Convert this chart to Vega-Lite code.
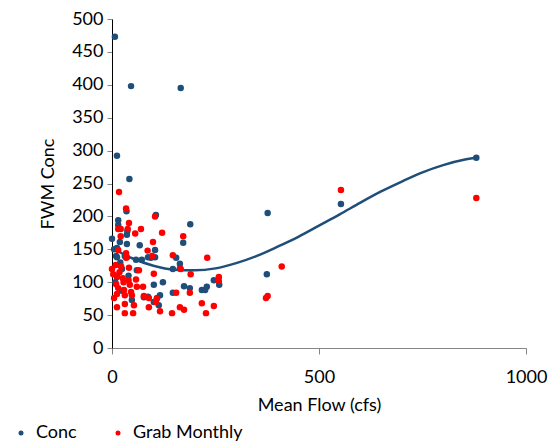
{
  "$schema": "https://vega.github.io/schema/vega-lite/v6.json",
  "width": 414,
  "height": 329,
  "autosize": {"type": "none"},
  "padding": {"left": 112, "top": 19, "right": 27, "bottom": 96},
  "background": "white",
  "config": {
    "font": "Lato",
    "view": {"stroke": null},
    "axis": {"grid": false, "labelFont": "Lato", "titleFont": "Lato", "labelFontSize": 18, "titleFontSize": 18, "labelColor": "#000000", "titleColor": "#000000", "titleFontWeight": "normal"},
    "legend": {"labelFont": "Lato", "labelFontSize": 18, "labelColor": "#000000"}
  },
  "datasets": {
    "pts": [
      {"flow": 7, "conc": 473, "series": "Conc"},
      {"flow": 46, "conc": 398, "series": "Conc"},
      {"flow": 166, "conc": 395, "series": "Conc"},
      {"flow": 12, "conc": 292, "series": "Conc"},
      {"flow": 42, "conc": 257, "series": "Conc"},
      {"flow": 106, "conc": 202, "series": "Conc"},
      {"flow": 376, "conc": 205, "series": "Conc"},
      {"flow": 15, "conc": 194, "series": "Conc"},
      {"flow": 35, "conc": 208, "series": "Conc"},
      {"flow": 189, "conc": 188, "series": "Conc"},
      {"flow": 15, "conc": 187, "series": "Conc"},
      {"flow": 37, "conc": 178, "series": "Conc"},
      {"flow": 36, "conc": 172, "series": "Conc"},
      {"flow": 0, "conc": 166, "series": "Conc"},
      {"flow": 172, "conc": 160, "series": "Conc"},
      {"flow": 19, "conc": 161, "series": "Conc"},
      {"flow": 36, "conc": 158, "series": "Conc"},
      {"flow": 67, "conc": 156, "series": "Conc"},
      {"flow": 12, "conc": 152, "series": "Conc"},
      {"flow": 104, "conc": 149, "series": "Conc"},
      {"flow": 10, "conc": 140, "series": "Conc"},
      {"flow": 31, "conc": 140, "series": "Conc"},
      {"flow": 87, "conc": 138, "series": "Conc"},
      {"flow": 104, "conc": 138, "series": "Conc"},
      {"flow": 12, "conc": 138, "series": "Conc"},
      {"flow": 94, "conc": 137, "series": "Conc"},
      {"flow": 155, "conc": 137, "series": "Conc"},
      {"flow": 58, "conc": 134, "series": "Conc"},
      {"flow": 72, "conc": 134, "series": "Conc"},
      {"flow": 164, "conc": 128, "series": "Conc"},
      {"flow": 24, "conc": 120, "series": "Conc"},
      {"flow": 60, "conc": 118, "series": "Conc"},
      {"flow": 147, "conc": 120, "series": "Conc"},
      {"flow": 164, "conc": 121, "series": "Conc"},
      {"flow": 12, "conc": 108, "series": "Conc"},
      {"flow": 374, "conc": 112, "series": "Conc"},
      {"flow": 101, "conc": 96, "series": "Conc"},
      {"flow": 123, "conc": 100, "series": "Conc"},
      {"flow": 174, "conc": 94, "series": "Conc"},
      {"flow": 188, "conc": 91, "series": "Conc"},
      {"flow": 217, "conc": 88, "series": "Conc"},
      {"flow": 225, "conc": 88, "series": "Conc"},
      {"flow": 229, "conc": 93, "series": "Conc"},
      {"flow": 246, "conc": 103, "series": "Conc"},
      {"flow": 259, "conc": 96, "series": "Conc"},
      {"flow": 24, "conc": 87, "series": "Conc"},
      {"flow": 77, "conc": 77, "series": "Conc"},
      {"flow": 87, "conc": 78, "series": "Conc"},
      {"flow": 116, "conc": 80, "series": "Conc"},
      {"flow": 109, "conc": 76, "series": "Conc"},
      {"flow": 48, "conc": 73, "series": "Conc"},
      {"flow": 101, "conc": 70, "series": "Conc"},
      {"flow": 113, "conc": 65, "series": "Conc"},
      {"flow": 147, "conc": 84, "series": "Conc"},
      {"flow": 553, "conc": 219, "series": "Conc"},
      {"flow": 880, "conc": 289, "series": "Conc"},
      {"flow": 5, "conc": 150, "series": "Conc"},
      {"flow": 20, "conc": 130, "series": "Conc"},
      {"flow": 40, "conc": 110, "series": "Conc"},
      {"flow": 8, "conc": 100, "series": "Conc"},
      {"flow": 17, "conc": 237, "series": "Grab Monthly"},
      {"flow": 34, "conc": 212, "series": "Grab Monthly"},
      {"flow": 104, "conc": 200, "series": "Grab Monthly"},
      {"flow": 15, "conc": 181, "series": "Grab Monthly"},
      {"flow": 21, "conc": 181, "series": "Grab Monthly"},
      {"flow": 38, "conc": 181, "series": "Grab Monthly"},
      {"flow": 41, "conc": 190, "series": "Grab Monthly"},
      {"flow": 70, "conc": 181, "series": "Grab Monthly"},
      {"flow": 121, "conc": 175, "series": "Grab Monthly"},
      {"flow": 56, "conc": 174, "series": "Grab Monthly"},
      {"flow": 21, "conc": 170, "series": "Grab Monthly"},
      {"flow": 172, "conc": 170, "series": "Grab Monthly"},
      {"flow": 99, "conc": 161, "series": "Grab Monthly"},
      {"flow": 86, "conc": 148, "series": "Grab Monthly"},
      {"flow": 15, "conc": 149, "series": "Grab Monthly"},
      {"flow": 34, "conc": 144, "series": "Grab Monthly"},
      {"flow": 36, "conc": 138, "series": "Grab Monthly"},
      {"flow": 147, "conc": 141, "series": "Grab Monthly"},
      {"flow": 230, "conc": 137, "series": "Grab Monthly"},
      {"flow": 34, "conc": 137, "series": "Grab Monthly"},
      {"flow": 97, "conc": 140, "series": "Grab Monthly"},
      {"flow": 0, "conc": 120, "series": "Grab Monthly"},
      {"flow": 22, "conc": 124, "series": "Grab Monthly"},
      {"flow": 41, "conc": 122, "series": "Grab Monthly"},
      {"flow": 65, "conc": 118, "series": "Grab Monthly"},
      {"flow": 101, "conc": 113, "series": "Grab Monthly"},
      {"flow": 12, "conc": 109, "series": "Grab Monthly"},
      {"flow": 26, "conc": 106, "series": "Grab Monthly"},
      {"flow": 58, "conc": 104, "series": "Grab Monthly"},
      {"flow": 10, "conc": 97, "series": "Grab Monthly"},
      {"flow": 43, "conc": 96, "series": "Grab Monthly"},
      {"flow": 60, "conc": 93, "series": "Grab Monthly"},
      {"flow": 75, "conc": 93, "series": "Grab Monthly"},
      {"flow": 15, "conc": 91, "series": "Grab Monthly"},
      {"flow": 29, "conc": 88, "series": "Grab Monthly"},
      {"flow": 46, "conc": 85, "series": "Grab Monthly"},
      {"flow": 12, "conc": 82, "series": "Grab Monthly"},
      {"flow": 31, "conc": 80, "series": "Grab Monthly"},
      {"flow": 48, "conc": 80, "series": "Grab Monthly"},
      {"flow": 5, "conc": 76, "series": "Grab Monthly"},
      {"flow": 89, "conc": 76, "series": "Grab Monthly"},
      {"flow": 106, "conc": 70, "series": "Grab Monthly"},
      {"flow": 89, "conc": 62, "series": "Grab Monthly"},
      {"flow": 12, "conc": 62, "series": "Grab Monthly"},
      {"flow": 31, "conc": 67, "series": "Grab Monthly"},
      {"flow": 53, "conc": 65, "series": "Grab Monthly"},
      {"flow": 31, "conc": 53, "series": "Grab Monthly"},
      {"flow": 51, "conc": 53, "series": "Grab Monthly"},
      {"flow": 116, "conc": 56, "series": "Grab Monthly"},
      {"flow": 145, "conc": 53, "series": "Grab Monthly"},
      {"flow": 174, "conc": 58, "series": "Grab Monthly"},
      {"flow": 227, "conc": 53, "series": "Grab Monthly"},
      {"flow": 166, "conc": 120, "series": "Grab Monthly"},
      {"flow": 190, "conc": 112, "series": "Grab Monthly"},
      {"flow": 155, "conc": 84, "series": "Grab Monthly"},
      {"flow": 188, "conc": 84, "series": "Grab Monthly"},
      {"flow": 77, "conc": 79, "series": "Grab Monthly"},
      {"flow": 108, "conc": 75, "series": "Grab Monthly"},
      {"flow": 164, "conc": 62, "series": "Grab Monthly"},
      {"flow": 217, "conc": 68, "series": "Grab Monthly"},
      {"flow": 246, "conc": 64, "series": "Grab Monthly"},
      {"flow": 258, "conc": 108, "series": "Grab Monthly"},
      {"flow": 258, "conc": 102, "series": "Grab Monthly"},
      {"flow": 410, "conc": 124, "series": "Grab Monthly"},
      {"flow": 376, "conc": 79, "series": "Grab Monthly"},
      {"flow": 372, "conc": 76, "series": "Grab Monthly"},
      {"flow": 553, "conc": 240, "series": "Grab Monthly"},
      {"flow": 880, "conc": 228, "series": "Grab Monthly"},
      {"flow": 9, "conc": 126, "series": "Grab Monthly"},
      {"flow": 3, "conc": 112, "series": "Grab Monthly"},
      {"flow": 18, "conc": 115, "series": "Grab Monthly"},
      {"flow": 28, "conc": 100, "series": "Grab Monthly"},
      {"flow": 40, "conc": 103, "series": "Grab Monthly"}
    ],
    "trend": [
      {"flow": 0, "conc": 152},
      {"flow": 50, "conc": 136},
      {"flow": 100, "conc": 125},
      {"flow": 150, "conc": 119},
      {"flow": 200, "conc": 118},
      {"flow": 250, "conc": 121},
      {"flow": 300, "conc": 129},
      {"flow": 350, "conc": 140},
      {"flow": 400, "conc": 154},
      {"flow": 450, "conc": 169},
      {"flow": 500, "conc": 186},
      {"flow": 550, "conc": 203},
      {"flow": 600, "conc": 221},
      {"flow": 650, "conc": 238},
      {"flow": 700, "conc": 253},
      {"flow": 750, "conc": 267},
      {"flow": 800, "conc": 278},
      {"flow": 850, "conc": 286},
      {"flow": 880, "conc": 289}
    ]
  },
  "encoding": {
    "x": {"field": "flow", "type": "quantitative", "scale": {"domain": [0, 1000], "nice": false},
      "axis": {"title": "Mean Flow (cfs)", "values": [0, 500, 1000], "format": "d", "domainColor": "#868686", "tickColor": "#868686", "tickSize": 6, "labelPadding": 14, "titlePadding": 10, "labelFlush": false}},
    "y": {"field": "conc", "type": "quantitative", "scale": {"domain": [0, 500], "nice": false},
      "axis": {"title": "FWM Conc", "values": [0, 50, 100, 150, 200, 250, 300, 350, 400, 450, 500], "format": "d", "domainColor": "#000000", "tickColor": "#868686", "tickSize": 5, "labelPadding": 4, "titlePadding": 14}}
  },
  "layer": [
    {
      "data": {"name": "pts"},
      "transform": [{"filter": "datum.series === 'Conc'"}],
      "mark": {"type": "circle", "size": 42, "opacity": 1},
      "encoding": {
        "color": {"field": "series", "type": "nominal",
          "scale": {"domain": ["Conc", "Grab Monthly"], "range": ["#1F4E79", "#FF0000"]},
          "legend": {"title": null, "orient": "none", "direction": "horizontal", "legendX": -100, "legendY": 405, "symbolType": "circle", "symbolSize": 25, "labelOffset": 6, "columnPadding": 32, "symbolStrokeWidth": 0}}
      }
    },
    {
      "data": {"name": "trend"},
      "mark": {"type": "line", "color": "#1F4E79", "strokeWidth": 2.5, "interpolate": "monotone"},
      "encoding": {}
    },
    {
      "data": {"name": "pts"},
      "transform": [{"filter": "datum.series === 'Grab Monthly'"}],
      "mark": {"type": "circle", "size": 42, "opacity": 1},
      "encoding": {
        "color": {"field": "series", "type": "nominal",
          "scale": {"domain": ["Conc", "Grab Monthly"], "range": ["#1F4E79", "#FF0000"]}}
      }
    }
  ]
}
